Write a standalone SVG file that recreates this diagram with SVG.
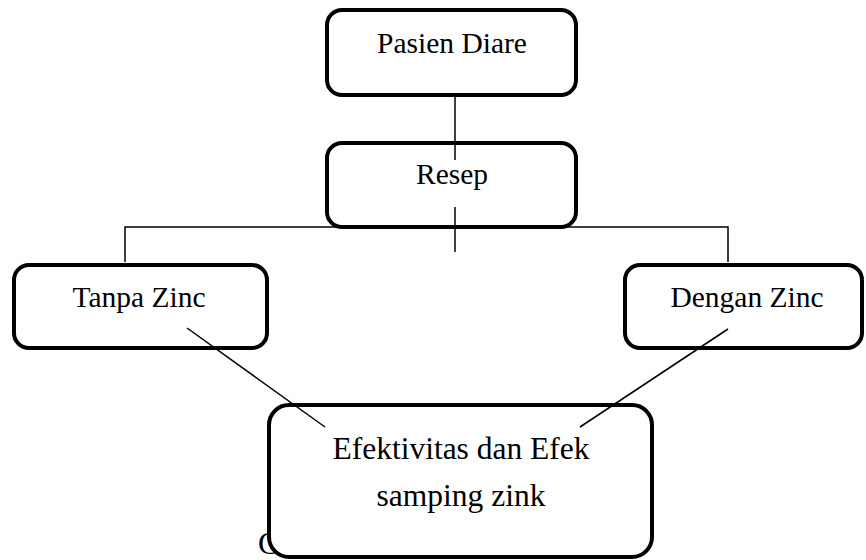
<svg xmlns="http://www.w3.org/2000/svg" width="866" height="560" viewBox="0 0 866 560">
<style>
.box{fill:#fff;stroke:#000;stroke-width:4}
.ln{stroke:#000;stroke-width:1.5;fill:none}
text{font-family:"Liberation Serif","Times New Roman",serif;font-size:29.5px;fill:#000;text-anchor:middle}
.big{font-size:31.5px}
</style>
<rect width="866" height="560" fill="#fff"/>
<g id="connectors-back">
<polyline class="ln" points="125,262 125,227 728,227 728,262"/>
</g>
<g id="hidden-text"><text class="big" x="258" y="554" style="text-anchor:start">C</text></g>
<g id="n-pasien"><rect class="box" x="327" y="10" width="249" height="85" rx="15"/><text x="452" y="53">Pasien Diare</text></g>
<g id="n-resep"><rect class="box" x="327" y="143" width="249" height="84" rx="15"/><text x="452" y="184">Resep</text></g>
<g id="n-tanpa"><rect class="box" x="14" y="265" width="253" height="83" rx="15"/><text x="139" y="307">Tanpa Zinc</text></g>
<g id="n-dengan"><rect class="box" x="625" y="265" width="237" height="83" rx="15"/><text x="747" y="307">Dengan Zinc</text></g>
<g id="n-efek"><rect class="box" x="269" y="405" width="383" height="152" rx="20"/><text class="big" x="461" y="459">Efektivitas dan Efek</text><text class="big" x="461" y="506">samping zink</text></g>
<g id="connectors">
<line class="ln" x1="455" y1="97" x2="455" y2="160"/>
<line class="ln" x1="455" y1="207" x2="455" y2="252"/>
<line class="ln" x1="187" y1="328" x2="325" y2="427"/>
<line class="ln" x1="728" y1="329" x2="580" y2="427"/>
</g>
</svg>
